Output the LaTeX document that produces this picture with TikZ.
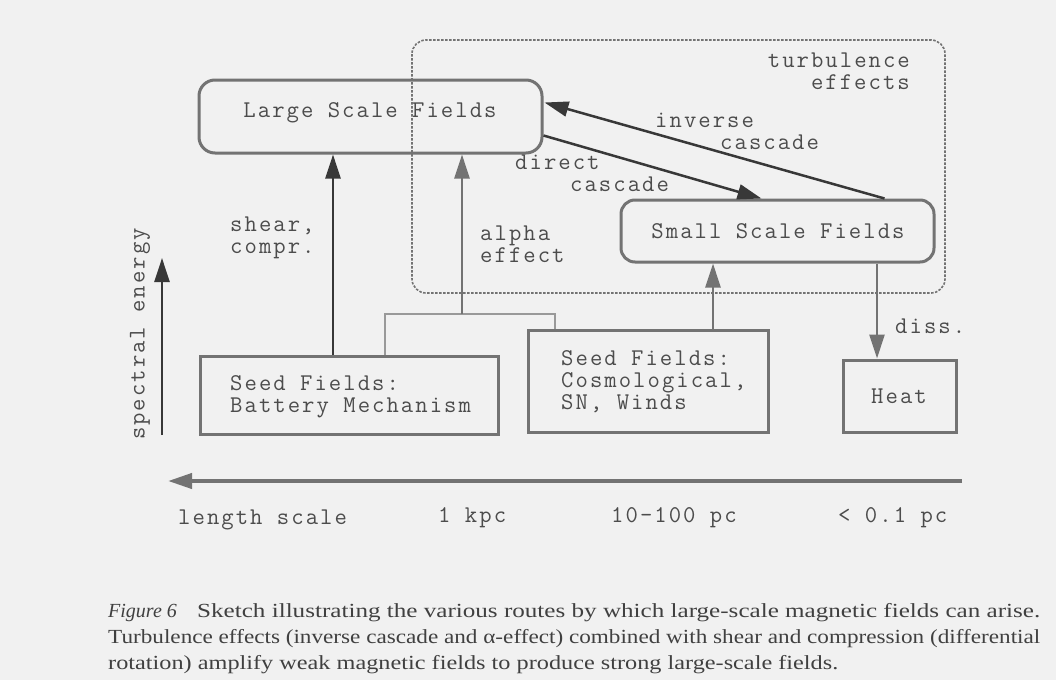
\documentclass[tikz,border=0pt]{standalone}
\usepackage{fontspec}
\setmainfont{Liberation Serif}
\newfontfamily\courfont[LetterSpace=8.5]{Latin Modern Mono}
\usetikzlibrary{arrows.meta,calc}
\definecolor{bg}{gray}{0.945}
\definecolor{boxc}{gray}{0.45}
\definecolor{lightc}{gray}{0.6}
\definecolor{arrc}{gray}{0.22}
\definecolor{txtc}{gray}{0.3}
\definecolor{capc}{gray}{0.25}
\begin{document}
\begin{tikzpicture}[x=1pt,y=-1pt,
  tt/.style={font=\fontsize{24}{22}\selectfont\courfont, text=txtc, inner sep=0pt, align=left},
  rbox/.style={draw=boxc, line width=3pt, rounded corners=16pt, inner sep=0pt},
  sbox/.style={draw=boxc, line width=3pt, inner sep=0pt},
  arr/.style={draw=arrc, line width=2.5pt, -{Triangle[length=24pt,width=15pt]}},
  garr/.style={draw=boxc, line width=2.5pt, -{Triangle[length=24pt,width=15pt]}},
  captxt/.style={font=\fontsize{20}{27}\selectfont, text=capc, inner sep=0pt, anchor=base west}]
\fill[bg] (0,0) rectangle (1056,680);
\useasboundingbox (0,0) rectangle (1056,680);

% boxes
\node[rbox, minimum width=343pt, minimum height=73pt] (large) at (370.5,116.5) {};
\node[tt] at (370,113) {Large Scale Fields};
\node[rbox, minimum width=313pt, minimum height=62pt, rounded corners=14pt] (small) at (777.5,231) {};
\node[tt] at (778,231) {Small Scale Fields};
\node[sbox, minimum width=298pt, minimum height=78pt] (battery) at (349,395) {};
\node[tt, anchor=west] at (230,397) {Seed Fields:\\Battery Mechanism};
\node[sbox, minimum width=240pt, minimum height=102pt] (cosmo) at (648,381) {};
\node[tt, anchor=north west] at (561,350) {Seed Fields:\\Cosmological,\\SN, Winds};
\node[sbox, minimum width=113pt, minimum height=72pt] (heat) at (899.5,396) {};
\node[tt] at (899,396) {Heat};

% turbulence region
\draw[boxc, line width=1.6pt, dash pattern=on 2.5pt off 1.5pt, rounded corners=14pt] (412,40) rectangle (945,293);
\node[tt, anchor=east, align=right] at (910,71) {turbulence\\effects};

% connectors
\coordinate (sx) at (333,0);
\coordinate (ax) at (462,0);
\coordinate (bl) at (385,314);
\coordinate (br) at (555,314);
\coordinate (cx) at (713,0);
\coordinate (hx) at (877,0);
\draw[arr] (battery.north -| sx) -- (large.south -| sx);
\draw[lightc, line width=2pt] (battery.north -| bl) -- (bl) -- (br) -- (cosmo.north -| br);
\draw[garr] (bl -| ax) -- (large.south -| ax);
\draw[garr] (cosmo.north -| cx) -- (small.south -| cx);
\draw[garr] (small.south -| hx) -- (heat.north -| hx);
\draw[arr] ($(large.east)+(0,19)$) -- ($(small.north west)+(142,0)$);
\draw[arr] ($(small.north east)+(-51,0)$) -- ($(large.east)+(1,-14)$);

% labels
\node[tt, anchor=west] at (515,173) {direct\\\hspace*{55pt}cascade};
\node[tt, anchor=west] at (655,131) {inverse\\\hspace*{65pt}cascade};
\node[tt, anchor=west] at (230,238) {shear,\\compr.};
\node[tt, anchor=west] at (480,244) {alpha\\effect};
\node[tt, anchor=west] at (895,326) {diss.};

% spectral energy axis
\coordinate (sb) at (162,435);
\coordinate (st) at (162,258);
\draw[arr] (sb) -- (st);
\node[tt, rotate=90] at (140,334) {spectral energy};

% length scale axis
\coordinate (lr) at (962,481);
\coordinate (ll) at (168,481);
\draw[boxc, line width=4pt, -{Triangle[length=24pt,width=15pt]}] (lr) -- (ll);
\node[tt, anchor=west] at (178,520) {length scale};
\node[tt, anchor=west] at (438,518) {1 kpc};
\node[tt, anchor=west] at (611,518) {10-100 pc};
\node[tt, anchor=west] at (838,518) {< 0.1 pc};

% caption
\node[captxt] (c0) at (108,617) {\textit{Figure 6}};
\node[captxt] (c1) at (197,617) {\resizebox{843pt}{\height}{Sketch illustrating the various routes by which large-scale magnetic fields can arise.}};
\node[captxt] (c2) at (108,643) {\resizebox{932pt}{\height}{Turbulence effects (inverse cascade and α-effect) combined with shear and compression (differential}};
\node[captxt] (c3) at (108,669) {\resizebox{730pt}{\height}{rotation) amplify weak magnetic fields to produce strong large-scale fields.}};
\end{tikzpicture}
\end{document}
